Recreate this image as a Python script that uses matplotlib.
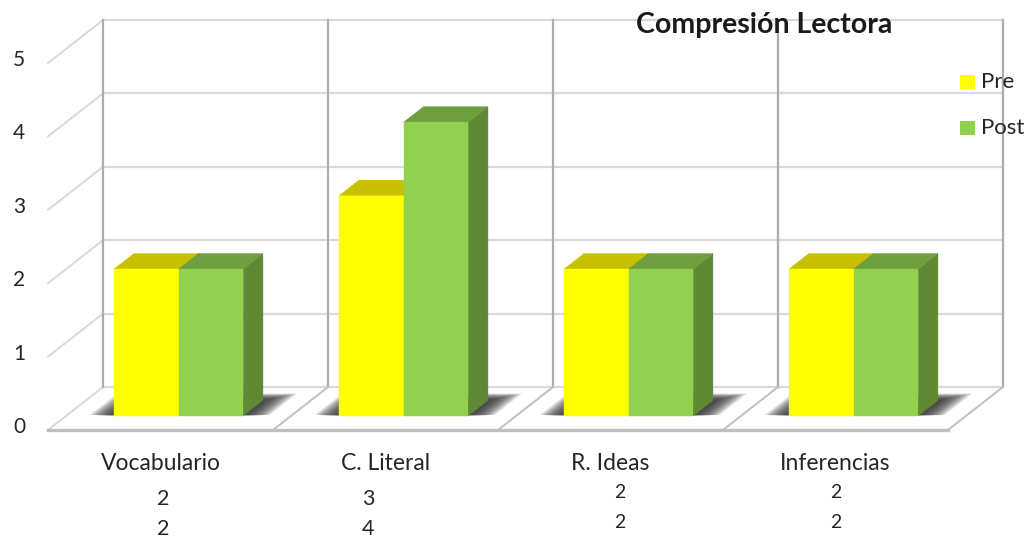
import matplotlib
matplotlib.use("Agg")
import matplotlib.pyplot as plt
from matplotlib.patches import Polygon, Rectangle

# ---- data ----
categories = ["Vocabulario", "C. Literal", "R. Ideas", "Inferencias"]
pre_values = [2, 3, 2, 2]
post_values = [2, 4, 2, 2]
series_names = ["Pre", "Post"]
y_ticks = [0, 1, 2, 3, 4, 5]
title = "Compresión Lectora"

# ---- colours ----
face_colors = {"Pre": ("#FFFF00", "#C6C000", "#A9A400"),
               "Post": ("#92D050", "#6E9E3E", "#5F8A33")}
grid_light = "#D9D9D9"
grid_dark = "#ADADAD"
FONT = ["Lato", "DejaVu Sans"]
TEXT_COLOR = "#262626"

W, H = 1029, 542
fig = plt.figure(figsize=(W / 100, H / 100), dpi=100)
ax = fig.add_axes([0, 0, 1, 1])

# front plane scale: one category = 225 px, one value unit = 73.4 px
CAT_PX, VAL_PX, X0_PX, Y0_PX = 225.0, 73.4, 48.0, 430.0
ax.set_xlim(-X0_PX / CAT_PX, (W - X0_PX) / CAT_PX)
ax.set_ylim(-(H - Y0_PX) / VAL_PX, Y0_PX / VAL_PX)
ax.axis("off")

# oblique depth offset (full depth of the floor)
DX = 55.0 / CAT_PX
DY = 43.0 / VAL_PX
n_cat = len(categories)
vmax = max(y_ticks)


def P(x, v, d):
    """Project a (category-x, value, depth) point onto the page."""
    return (x + d * DX, v + d * DY)


def px(x, y):
    """Page pixel position -> data coordinates (used for text layout)."""
    return ((x - X0_PX) / CAT_PX, (Y0_PX - y) / VAL_PX)


def poly(pts, **kw):
    ax.add_patch(Polygon(pts, closed=True, **kw))


# back wall and floor
poly([P(0, 0, 1), P(n_cat, 0, 1), P(n_cat, vmax, 1), P(0, vmax, 1)],
     facecolor="white", edgecolor="none", zorder=0)
poly([P(0, 0, 0), P(n_cat, 0, 0), P(n_cat, 0, 1), P(0, 0, 1)],
     facecolor="white", edgecolor="none", zorder=0)

# horizontal gridlines on back wall and side wall
for v in y_ticks:
    xs, ys = zip(P(0, v, 1), P(n_cat, v, 1))
    ax.plot(xs, ys, color=grid_light, lw=1.6, zorder=1, solid_capstyle="butt")
    xs, ys = zip(P(0, v, 0), P(0, v, 1))
    ax.plot(xs, ys, color=grid_light, lw=1.4, zorder=1)

# vertical dividers on back wall
for k in range(n_cat + 1):
    xs, ys = zip(P(k, 0, 1), P(k, vmax, 1))
    ax.plot(xs, ys, color=grid_dark, lw=1.6, zorder=1)

# floor dividers and edges
for k in range(1, n_cat + 1):
    xs, ys = zip(P(k, 0, 0), P(k, 0, 1))
    ax.plot(xs, ys, color="#BFBFBF", lw=1.4, zorder=1)
xs, ys = zip(P(0, 0, 0), P(n_cat, 0, 0))
ax.plot(xs, ys, color="#BFBFBF", lw=2.4, zorder=1)

# bar geometry (category units / depth fraction)
gap = 0.2133
bw = (1 - 2 * gap) / 2
d0, d1 = 0.33, 0.69

# soft shadows under each bar group (stacked translucent layers)
n_layers = 24
for i in range(n_cat):
    x0, x1 = i + gap, i + 1 - gap
    for k in range(n_layers):
        f = ((k + 1) / n_layers) ** 0.8
        ex = 0.115 * f
        poly([P(x0 - ex, 0, d0 + 0.02 * f), P(x1 + ex, 0, d0 + 0.02 * f),
              P(x1 + ex, 0, d1 + 0.16 * f), P(x0 - ex, 0, d1 + 0.16 * f)],
             facecolor="#1A1A1A", edgecolor="none", alpha=0.06, zorder=2)

# 3-D bars
for i in range(n_cat):
    for j, (name, vals) in enumerate(zip(series_names, [pre_values, post_values])):
        v = vals[i]
        x0 = i + gap + j * bw
        x1 = x0 + bw
        front, top, side = face_colors[name]
        z = 3 + j
        poly([P(x1, 0, d0), P(x1, 0, d1), P(x1, v, d1), P(x1, v, d0)],
             facecolor=side, edgecolor=side, lw=0.3, zorder=z)
        poly([P(x0, v, d0), P(x1, v, d0), P(x1, v, d1), P(x0, v, d1)],
             facecolor=top, edgecolor=top, lw=0.3, zorder=z)
        poly([P(x0, 0, d0), P(x1, 0, d0), P(x1, v, d0), P(x0, v, d0)],
             facecolor=front, edgecolor=front, lw=0.3, zorder=z)

# value axis labels
for v in y_ticks:
    ax.text(*px(19, Y0_PX - v * VAL_PX - 3), str(v), ha="center", va="center",
            fontsize=15, color=TEXT_COLOR, family=FONT)

# category labels
for i, c in enumerate(categories):
    ax.text(i + 0.5, px(0, 463)[1], c, ha="center", va="center",
            fontsize=16.5, color=TEXT_COLOR, family=FONT)

# data table rows beneath the categories
table_x = [163, 368, 620, 836]
table_y = [(499, 529), (499, 529), (492, 522), (492, 522)]
table_fs = [15.5, 15.5, 14, 14]
for i in range(n_cat):
    for row, vals in enumerate([pre_values, post_values]):
        ax.text(*px(table_x[i], table_y[i][row]), str(vals[i]), ha="center",
                va="center", fontsize=table_fs[i], color=TEXT_COLOR, family=FONT)

# title
ax.text(*px(764, 25), title, ha="center", va="center", fontsize=20.5,
        fontweight="bold", color="#1A1A1A", family=FONT, zorder=10)

# legend
for k, name in enumerate(series_names):
    yc = 82 + k * 46
    xa, ya = px(960, yc + 7)
    xb, yb = px(975, yc - 7)
    ax.add_patch(Rectangle((xa, ya), xb - xa, yb - ya,
                           facecolor=face_colors[name][0], edgecolor="none", zorder=10))
    ax.text(*px(981, yc), name, ha="left", va="center", fontsize=16,
            color=TEXT_COLOR, family=FONT, zorder=10)

fig.savefig("out.png", dpi=100)
